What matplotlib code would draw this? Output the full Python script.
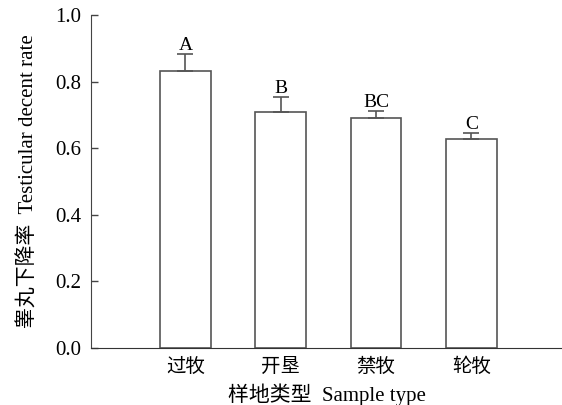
import matplotlib
matplotlib.use("Agg")
import matplotlib.pyplot as plt
import numpy as np

plt.rcParams["font.family"] = ["Liberation Serif", "Noto Sans CJK SC"]

categories = ["过牧", "开垦", "禁牧", "轮牧"]
means = [0.833, 0.710, 0.691, 0.629]
errors = [0.050, 0.045, 0.021, 0.017]
letters = ["A", "B", "BC", "C"]

fig = plt.figure(figsize=(5.62, 4.05), dpi=100)
ax = fig.add_axes([91 / 562, 1 - 348 / 405, 1 - 91 / 562, 333 / 405])

x = np.arange(len(categories))
ax.bar(x, means, width=0.53, color="white", edgecolor="#555555", linewidth=1.2)
ax.errorbar(x, means, yerr=[np.zeros(len(errors)), errors], fmt="none",
            ecolor="#555555", elinewidth=1.2, capsize=6, capthick=1.2)
for xi, m, e, lab in zip(x, means, errors, letters):
    ax.text(xi, m + e, lab, ha="center", va="bottom", fontsize=14)

ax.set_xlim(-0.99, 3.95)
ax.set_ylim(0, 1.0)
ax.set_yticks(np.arange(0, 1.01, 0.2))
ax.set_yticklabels([f"{v:.1f}" for v in np.arange(0, 1.01, 0.2)], fontsize=15)
ax.set_xticks(x)
ax.set_xticklabels(categories, fontsize=14, fontweight="light")
ax.tick_params(axis="y", direction="in", length=5, width=1, color="#444444", pad=7)
ax.tick_params(axis="x", length=0, pad=7)
ax.spines["top"].set_visible(False)
ax.spines["right"].set_visible(False)
ax.spines["left"].set_color("#444444")
ax.spines["bottom"].set_color("#333333")
ax.set_xlabel("样地类型  Sample type", fontsize=15, labelpad=5)
ax.set_ylabel("睾丸下降率  Testicular decent rate", fontsize=15, labelpad=12)

fig.savefig("out.png", dpi=100)
